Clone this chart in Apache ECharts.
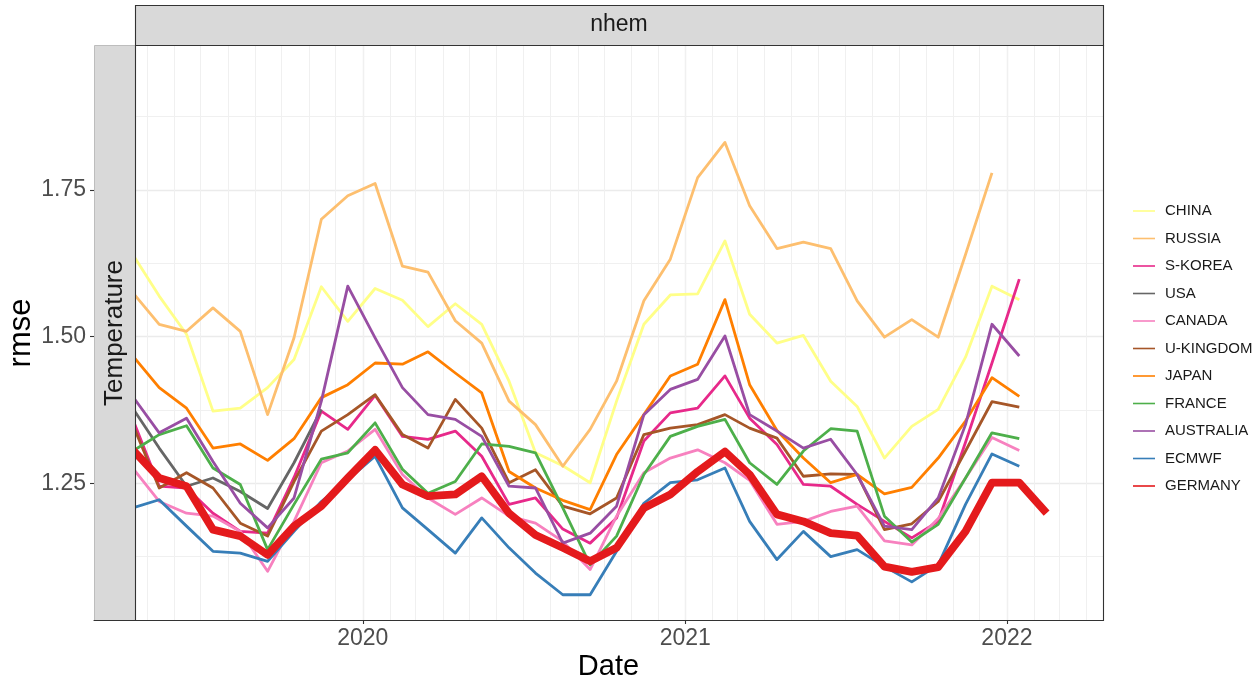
<!DOCTYPE html>
<html>
<head>
<meta charset="utf-8">
<script src="https://cdn.jsdelivr.net/npm/echarts@6/dist/echarts.min.js"></script>
<style>
html, body { margin: 0; padding: 0; background: #ffffff; }
#chart { width: 1256px; height: 684px; }
</style>
</head>
<body>
<div id="chart"></div>
<script>
// Monthly verification dates (mid-month), Apr 2019 .. Feb 2022
const months = [
  '2019-04-15','2019-05-15','2019-06-15','2019-07-15','2019-08-15','2019-09-15','2019-10-15','2019-11-15','2019-12-15',
  '2020-01-15','2020-02-15','2020-03-15','2020-04-15','2020-05-15','2020-06-15','2020-07-15','2020-08-15','2020-09-15','2020-10-15','2020-11-15','2020-12-15',
  '2021-01-15','2021-02-15','2021-03-15','2021-04-15','2021-05-15','2021-06-15','2021-07-15','2021-08-15','2021-09-15','2021-10-15','2021-11-15','2021-12-15',
  '2022-01-15','2022-02-15'
];

// Temperature rmse, northern hemisphere, per centre
const CHINA     = [1.640,1.569,1.504,1.373,1.378,1.413,1.461,1.585,1.526,1.582,1.562,1.517,1.556,1.521,1.424,1.302,1.280,1.251,1.390,1.521,1.571,1.573,1.663,1.538,1.489,1.502,1.424,1.381,1.293,1.347,1.376,1.465,1.586,1.563,null];
const RUSSIA    = [1.575,1.521,1.509,1.549,1.509,1.367,1.498,1.700,1.740,1.761,1.620,1.610,1.527,1.489,1.390,1.350,1.279,1.342,1.424,1.561,1.632,1.771,1.831,1.723,1.650,1.661,1.650,1.561,1.499,1.529,1.499,1.640,1.779,null,null];
const S_KOREA   = [1.359,1.245,1.242,1.199,1.168,1.165,1.260,1.373,1.342,1.400,1.330,1.325,1.339,1.296,1.214,1.225,1.172,1.148,1.191,1.322,1.370,1.378,1.433,1.361,1.316,1.248,1.245,1.214,1.185,1.157,1.185,1.320,1.455,1.598,null];
const USA       = [1.378,1.310,1.245,1.259,1.236,1.207,1.285,1.376,null,null,null,null,null,null,null,null,null,null,null,null,null,null,null,null,null,null,null,null,null,null,null,null,null,null,null];
const CANADA    = [1.276,1.219,1.199,1.194,1.168,1.100,1.185,1.285,1.305,1.342,1.265,1.225,1.197,1.225,1.194,1.182,1.151,1.103,1.194,1.268,1.293,1.307,1.285,1.255,1.180,1.185,1.202,1.211,1.152,1.145,1.190,1.259,1.328,1.306,null];
const U_KINGDOM = [1.350,1.242,1.268,1.242,1.182,1.160,1.253,1.339,1.367,1.401,1.333,1.310,1.393,1.344,1.251,1.273,1.211,1.198,1.225,1.333,1.344,1.350,1.367,1.344,1.327,1.262,1.266,1.265,1.171,1.181,1.219,1.305,1.389,1.380,null];
const JAPAN     = [1.467,1.413,1.378,1.310,1.317,1.289,1.326,1.396,1.418,1.455,1.453,1.474,1.438,1.404,1.270,1.242,1.221,1.205,1.299,1.367,1.433,1.453,1.563,1.418,1.340,1.293,1.251,1.265,1.232,1.243,1.293,1.356,1.430,1.398,null];
const FRANCE    = [1.305,1.333,1.348,1.276,1.248,1.137,1.214,1.291,1.302,1.353,1.274,1.233,1.253,1.317,1.313,1.302,1.208,1.111,1.160,1.265,1.330,1.347,1.359,1.285,1.248,1.305,1.343,1.339,1.194,1.150,1.180,1.259,1.336,1.326,null];
const AUSTRALIA = [1.398,1.336,1.361,1.287,1.216,1.174,1.225,1.390,1.586,1.498,1.413,1.367,1.359,1.330,1.245,1.242,1.148,1.165,1.211,1.367,1.410,1.427,1.501,1.367,1.339,1.310,1.325,1.265,1.177,1.171,1.225,1.350,1.521,1.467,null];
const ECMWF     = [1.208,1.222,1.177,1.134,1.131,1.117,1.168,1.219,1.256,1.296,1.208,1.171,1.131,1.191,1.140,1.097,1.060,1.060,1.134,1.216,1.251,1.256,1.276,1.185,1.120,1.168,1.125,1.137,1.108,1.082,1.111,1.214,1.300,1.279,null];
const GERMANY   = [1.307,1.259,1.245,1.171,1.160,1.128,1.177,1.211,1.259,1.307,1.248,1.228,1.231,1.262,1.199,1.162,1.140,1.117,1.140,1.208,1.231,1.270,1.304,1.265,1.197,1.185,1.165,1.161,1.108,1.099,1.107,1.168,1.251,1.251,1.199];

// Axis breaks
const yearTicks = ['2020-01-01', '2021-01-01', '2022-01-01'];
const yMajor = [1.25, 1.50, 1.75];
const yMinor = [1.125, 1.375, 1.625, 1.875];
const xLimits = ['2019-03-02', '2022-04-20'];

// date string -> epoch ms (local midnight), used for the numeric date axis
const t = s => new Date(s + 'T00:00:00').getTime();

// Month starts for the minor vertical grid
const monthStarts = [];
for (let y = 2019; y <= 2022; y++) {
  for (let m = 1; m <= 12; m++) {
    if ((y === 2019 && m < 4) || (y === 2022 && m > 4)) continue;
    monthStarts.push(t(y + '-' + String(m).padStart(2, '0') + '-01'));
  }
}

const centres = [
  { name: 'CHINA',     values: CHINA,     color: '#FFFF88', width: 2.8 },
  { name: 'RUSSIA',    values: RUSSIA,    color: '#FDBF6F', width: 2.8 },
  { name: 'S-KOREA',   values: S_KOREA,   color: '#E7298A', width: 2.8 },
  { name: 'USA',       values: USA,       color: '#666666', width: 2.8 },
  { name: 'CANADA',    values: CANADA,    color: '#F781BF', width: 2.8 },
  { name: 'U-KINGDOM', values: U_KINGDOM, color: '#A65628', width: 2.8 },
  { name: 'JAPAN',     values: JAPAN,     color: '#FF7F00', width: 2.8 },
  { name: 'FRANCE',    values: FRANCE,    color: '#4DAF4A', width: 2.8 },
  { name: 'AUSTRALIA', values: AUSTRALIA, color: '#984EA3', width: 2.8 },
  { name: 'ECMWF',     values: ECMWF,     color: '#377EB8', width: 2.8 },
  { name: 'GERMANY',   values: GERMANY,   color: '#E41A1C', width: 7.8 }
];

const FONT = 'Liberation Sans, Arial, sans-serif';
const X0 = 94, X1 = 1103, Y0 = 45, Y1 = 620, STRIP_R = 135;

const chart = echarts.init(document.getElementById('chart'), null, { renderer: 'canvas' });

chart.setOption({
  animation: false,
  backgroundColor: '#ffffff',
  grid: {
    left: X0, right: 1256 - X1, top: Y0, bottom: 684 - Y1,
    containLabel: false, outerBoundsMode: 'none', show: false
  },
  xAxis: [
    {
      type: 'value', min: t(xLimits[0]), max: t(xLimits[1]),
      axisLine: { show: true, lineStyle: { color: '#333333', width: 1.1 } },
      axisTick: { show: true, length: 4, customValues: yearTicks.map(t), lineStyle: { color: '#333333', width: 1.1 } },
      axisLabel: {
        show: true, customValues: yearTicks.map(t), margin: 7,
        fontFamily: FONT, fontSize: 23, color: '#4D4D4D',
        formatter: function (v) { return String(new Date(v).getFullYear()); }
      },
      splitLine: { show: true, lineStyle: { color: '#EBEBEB', width: 1.4 } }
    },
    {
      type: 'value', min: t(xLimits[0]), max: t(xLimits[1]),
      axisLine: { show: false }, axisLabel: { show: false },
      axisTick: { show: false, customValues: monthStarts },
      splitLine: { show: true, lineStyle: { color: '#F0F0F0', width: 1 } }
    }
  ],
  yAxis: [
    {
      type: 'value', min: 1.017, max: 1.997,
      axisLine: { show: false },
      axisTick: { show: true, length: 4, customValues: yMajor, lineStyle: { color: '#333333', width: 1.1 } },
      axisLabel: {
        show: true, customValues: yMajor, margin: 8,
        fontFamily: FONT, fontSize: 23, color: '#4D4D4D',
        formatter: function (v) { return Number(v).toFixed(2); }
      },
      splitLine: { show: true, lineStyle: { color: '#EBEBEB', width: 1.4 } }
    },
    {
      type: 'value', min: 1.017, max: 1.997,
      axisLine: { show: false }, axisLabel: { show: false },
      axisTick: { show: false, customValues: yMinor },
      splitLine: { show: true, lineStyle: { color: '#F0F0F0', width: 1 } }
    }
  ],
  legend: {
    orient: 'vertical', left: 1128, top: 198,
    itemWidth: 22, itemHeight: 14, itemGap: 11.5,
    icon: 'path://M0,0H22V1.6H0Z',
    selectedMode: false,
    formatter: function (name) { return '{k|' + name + '}'; },
    textStyle: {
      fontFamily: FONT, fontSize: 15, lineHeight: 16, color: '#1A1A1A',
      rich: { k: { fontFamily: FONT, fontSize: 15, lineHeight: 16, color: '#1A1A1A', padding: [0, 0, 0, 5] } }
    },
    data: centres.map(c => c.name)
  },
  series: centres.map(c => ({
    name: c.name,
    type: 'line',
    xAxisIndex: 0, yAxisIndex: 0,
    showSymbol: false, symbol: 'none',
    connectNulls: false,
    itemStyle: { color: c.color },
    lineStyle: { color: c.color, width: c.width, join: 'round', cap: 'butt' },
    emphasis: { disabled: true },
    data: months.map((d, i) => [t(d), c.values[i]])
  })),
  graphic: [
    // top facet strip
    { type: 'rect', z: 100, shape: { x: STRIP_R + 0.5, y: 5.5, width: X1 - STRIP_R, height: Y0 - 5 },
      style: { fill: '#D9D9D9', stroke: '#333333', lineWidth: 1.1 } },
    { type: 'text', z: 101, x: (STRIP_R + X1) / 2, y: 25,
      style: { text: 'nhem', fontFamily: FONT, fontSize: 23, fill: '#1A1A1A',
               align: 'center', verticalAlign: 'middle', textAlign: 'center', textVerticalAlign: 'middle' } },
    // left facet strip
    { type: 'rect', z: 100, shape: { x: X0 + 0.5, y: Y0 + 0.5, width: STRIP_R - X0, height: Y1 - Y0 },
      style: { fill: '#D9D9D9', stroke: '#BDBDBD', lineWidth: 1 } },
    { type: 'text', z: 101, x: 115, y: 333, rotation: Math.PI / 2,
      style: { text: 'Temperature', fontFamily: FONT, fontSize: 26, fill: '#1A1A1A',
               align: 'center', verticalAlign: 'middle', textAlign: 'center', textVerticalAlign: 'middle' } },
    // panel border
    { type: 'rect', z: 102, shape: { x: STRIP_R + 0.5, y: Y0 + 0.5, width: X1 - STRIP_R, height: Y1 - Y0 },
      style: { fill: null, stroke: '#333333', lineWidth: 1.1 } },
    // bottom axis line, running under the strip as well
    { type: 'line', z: 102, shape: { x1: X0, y1: Y1 + 0.5, x2: X1, y2: Y1 + 0.5 },
      style: { stroke: '#333333', lineWidth: 1.1 } },
    // axis titles
    { type: 'text', z: 101, x: 21, y: 333, rotation: Math.PI / 2,
      style: { text: 'rmse', fontFamily: FONT, fontSize: 31, fill: '#000000',
               align: 'center', verticalAlign: 'middle', textAlign: 'center', textVerticalAlign: 'middle' } },
    { type: 'text', z: 101, x: (X0 + X1) / 2 + 10, y: 667,
      style: { text: 'Date', fontFamily: FONT, fontSize: 29, fill: '#000000',
               align: 'center', verticalAlign: 'middle', textAlign: 'center', textVerticalAlign: 'middle' } }
  ]
});
</script>
</body>
</html>
